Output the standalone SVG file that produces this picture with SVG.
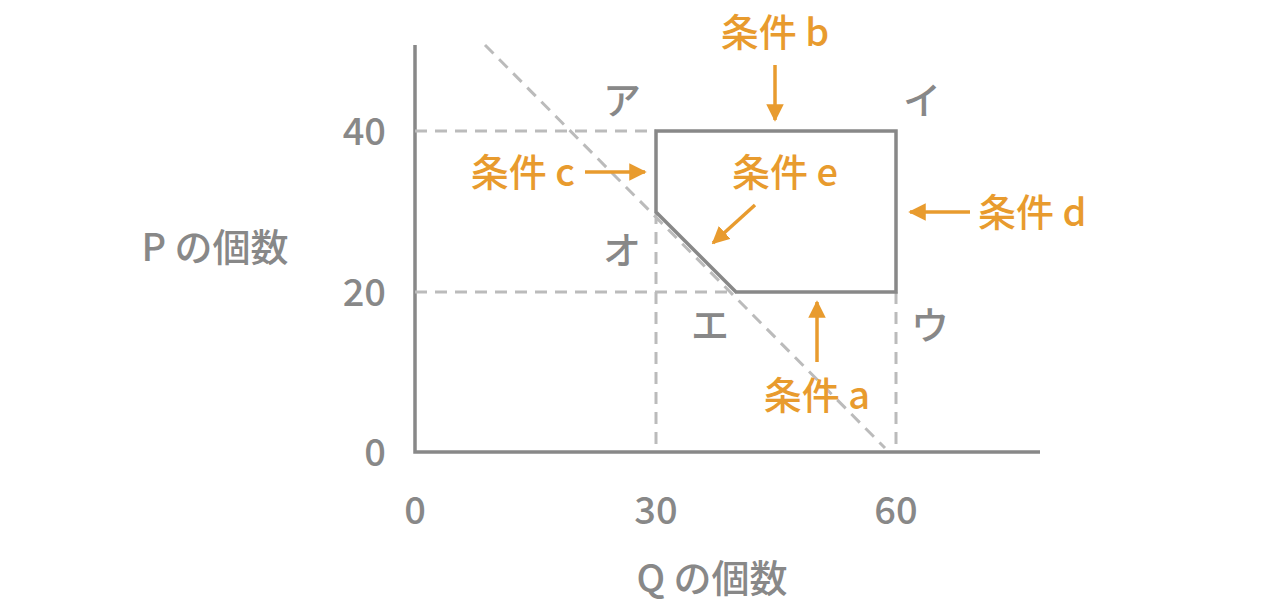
<svg xmlns="http://www.w3.org/2000/svg" width="1274" height="614" viewBox="0 0 1274 614">
<style>
text{font-family:"Noto Sans CJK JP","Noto Sans",sans-serif;font-size:38px;font-weight:500;fill:#888;}
.o{fill:#E89B2E;}
.d{stroke:#bbb;stroke-width:3;stroke-dasharray:12 8;fill:none;}
.s{stroke:#888;stroke-width:3.5;fill:none;}
.a{stroke:#E89B2E;stroke-width:3.5;fill:none;marker-end:url(#m);}
</style>
<defs><marker id="m" viewBox="0 0 10 10" refX="9" refY="5" markerWidth="5" markerHeight="5" orient="auto" markerUnits="strokeWidth"><path d="M0,0L10,5L0,10z" fill="#E89B2E"/></marker></defs>
<g id="axes">
<path class="s" d="M415,45V452H1040"/>
<path class="d" d="M485,45L885,448M415,131H656M415,292H736M656,212V452M896,292V452"/>
</g>
<g id="region"><path class="s" d="M656,131H896V292H736L656,212Z"/></g>
<g id="labels">
<text x="386" y="145" text-anchor="end">40</text>
<text x="386" y="306" text-anchor="end">20</text>
<text x="386" y="466" text-anchor="end">0</text>
<text x="415" y="524" text-anchor="middle">0</text>
<text x="656" y="524" text-anchor="middle">30</text>
<text x="896" y="524" text-anchor="middle">60</text>
<text x="712" y="592" text-anchor="middle" font-size="42">Q の個数</text>
<text x="215" y="261" text-anchor="middle" font-size="42">P の個数</text>
<text x="622" y="114" text-anchor="middle">ア</text>
<text x="922" y="114" text-anchor="middle">イ</text>
<text x="622" y="264" text-anchor="middle">オ</text>
<text x="710" y="339" text-anchor="middle">エ</text>
<text x="930" y="339" text-anchor="middle">ウ</text>
</g>
<g id="conditions">
<text class="o" x="775" y="46" text-anchor="middle">条件 b</text>
<text class="o" x="575" y="186" text-anchor="end">条件 c</text>
<text class="o" x="785" y="186" text-anchor="middle">条件 e</text>
<text class="o" x="978" y="226">条件 d</text>
<text class="o" x="817" y="409" text-anchor="middle">条件 a</text>
</g>
<g id="connectors">
<path class="a" d="M775,65V120"/>
<path class="a" d="M585,172H645"/>
<path class="a" d="M755,205L713,243"/>
<path class="a" d="M970,212H910"/>
<path class="a" d="M817,362V302"/>
</g>
</svg>
